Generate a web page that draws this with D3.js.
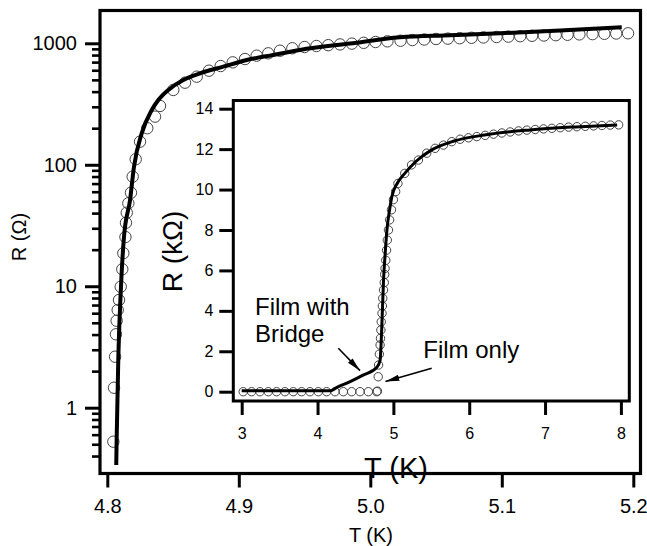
<!DOCTYPE html>
<html>
<head>
  <meta charset="utf-8">
  <title>R vs T</title>
  <script src="https://d3js.org/d3.v7.min.js"></script>
  <style>
    body { margin: 0; background: #fff; }
    text { font-family: "Liberation Sans", Arial, Helvetica, sans-serif; fill: #000; }
  </style>
</head>
<body>
<svg id="chart" width="647" height="546"></svg>
<script>
// main panel: R (Ohm, log) against T (K) near the transition
var mainT = [4.8046, 4.8051, 4.8059, 4.8066, 4.8071, 4.8079, 4.8089, 4.8102, 4.8114, 4.8122,
             4.8138, 4.8142, 4.8148, 4.8160, 4.8180, 4.8193, 4.8216, 4.8249, 4.8304, 4.8363,
             4.8401, 4.8502, 4.8591, 4.8680, 4.8773, 4.8862, 4.8954, 4.9047, 4.9136, 4.9224,
             4.9313, 4.9407, 4.950, 4.959, 4.968, 4.977, 4.986, 4.995, 5.004, 5.013,
             5.023, 5.032, 5.041, 5.050, 5.059, 5.068, 5.077, 5.086, 5.096, 5.105,
             5.114, 5.123, 5.132, 5.141, 5.150, 5.159, 5.169, 5.178, 5.187, 5.196];
var mainR = [0.525, 1.46, 2.63, 4.02, 5.2, 6.37, 7.7, 9.9, 13.8, 18.7,
             25.4, 33.3, 40.3, 48.2, 58.9, 79.8, 111, 155, 200, 249,
             305, 413, 474, 531, 595, 650, 697, 742, 791, 827,
             869, 910, 932, 950, 965, 979, 994, 1009, 1025, 1038,
             1050, 1064, 1074, 1085, 1093, 1101, 1110, 1118, 1127, 1135,
             1144, 1153, 1159, 1166, 1175, 1184, 1190, 1197, 1204, 1209];
var fitT = [4.8068, 4.8071, 4.8084, 4.8104, 4.8127, 4.8173, 4.8203, 4.8262, 4.8338, 4.8388,
            4.8464, 4.8578, 4.8705, 4.8882, 4.9060, 4.9262, 4.9465, 4.9846, 5.0226, 5.0606,
            5.0986, 5.1443, 5.1912];
var fitR = [0.337, 0.542, 2.63, 9.9, 25.6, 51.3, 96.4, 182, 282, 341,
            413, 499, 566, 642, 729, 801, 881, 996, 1120, 1164,
            1209, 1274, 1354];

// inset: R (kOhm) against T (K), 3 to 8 K
var insetT = [3.02, 3.13, 3.24, 3.35, 3.46, 3.57, 3.68, 3.79, 3.90, 4.01, 4.12, 4.23, 4.34, 4.45, 4.56, 4.67, 4.78,
              4.79, 4.80, 4.805, 4.815, 4.825, 4.83, 4.835, 4.84, 4.85, 4.855, 4.86, 4.87, 4.88, 4.885, 4.89,
              4.90, 4.91, 4.92, 4.935, 4.95, 4.975, 5.00, 5.03, 5.06, 5.15, 5.24, 5.33, 5.44, 5.55, 5.66,
              5.77, 5.88, 5.99, 6.10, 6.21, 6.32, 6.43, 6.54, 6.65, 6.76, 6.87, 6.98, 7.09, 7.20, 7.31,
              7.42, 7.53, 7.64, 7.75, 7.86, 7.97];
var insetR = [0, 0, 0, 0, 0, 0, 0, 0, 0, 0, 0, 0, 0, 0, 0, 0, 0,
              0.03, 0.74, 1.32, 1.86, 2.31, 2.64, 3.05, 3.46, 3.88, 4.24, 4.62, 5.03, 5.4, 5.8, 6.1,
              6.5, 7.0, 7.5, 8.0, 8.5, 9.0, 9.5, 9.9, 10.3, 10.8, 11.22, 11.46, 11.8, 12.04, 12.2,
              12.37, 12.49, 12.56, 12.62, 12.68, 12.74, 12.8, 12.85, 12.9, 12.94, 12.97, 13.0, 13.03, 13.06, 13.09,
              13.11, 13.13, 13.15, 13.17, 13.19, 13.2];
var bridgeT = [3.0, 4.17, 4.25, 4.43, 4.6, 4.78, 4.825, 4.845, 4.87, 4.895, 4.915, 4.95, 4.98,
               5.05, 5.15, 5.3, 5.5, 5.8, 6.2, 6.8, 7.4, 7.95];
var bridgeR = [0.05, 0.05, 0.2, 0.5, 0.82, 1.2, 1.55, 3.0, 5.5, 7.0, 8.0, 9.0, 9.65,
               10.3, 10.8, 11.4, 11.95, 12.4, 12.7, 12.95, 13.1, 13.2];

var mainXTicks = [4.8, 4.9, 5.0, 5.1, 5.2];
var mainYTicks = [1, 10, 100, 1000];
var insetXTicks = [3, 4, 5, 6, 7, 8];
var insetYTicks = [0, 2, 4, 6, 8, 10, 12, 14];

var svg = d3.select('#chart');

// main panel geometry
var box = { left: 100, right: 640.5, top: 10.5, bottom: 473.5 };
var x = d3.scaleLinear().domain([4.8, 5.2]).range([107.3, 633.3]);
var y = d3.scaleLog().domain([1, 1000]).range([407.7, 43.3]);

// minor log ticks between labelled decades
var minorTicks = [];
[0.1, 1, 10, 100].forEach(function(d) {
  for (var k = 2; k <= 9; k++) {
    var v = d * k;
    if (v >= 0.4 && v < 1000) minorTicks.push(v);
  }
});

svg.append('rect')
  .attr('x', box.left).attr('y', box.top)
  .attr('width', box.right - box.left).attr('height', box.bottom - box.top)
  .attr('fill', 'none').attr('stroke', '#000').attr('stroke-width', 3.2);

var xAxis = svg.append('g')
  .attr('transform', 'translate(0,' + box.bottom + ')')
  .call(d3.axisBottom(x).tickValues(mainXTicks).tickSize(14).tickPadding(11)
        .tickFormat(d3.format('.1f')));

var yMinor = svg.append('g')
  .attr('transform', 'translate(' + box.left + ',0)')
  .call(d3.axisLeft(y).tickValues(minorTicks).tickSize(8).tickFormat(''));

var yAxis = svg.append('g')
  .attr('transform', 'translate(' + box.left + ',0)')
  .call(d3.axisLeft(y).tickValues(mainYTicks).tickSize(15).tickPadding(8)
        .tickFormat(d3.format('d')));

[xAxis, yMinor, yAxis].forEach(function(g) {
  g.select('.domain').remove();
  g.selectAll('line').attr('stroke', '#000').attr('stroke-width', 3);
  g.selectAll('text').attr('font-size', 20).attr('font-family', null);
});
yMinor.selectAll('line').attr('stroke-width', 2.6);

svg.append('text')
  .attr('x', 371).attr('y', 542)
  .attr('text-anchor', 'middle').attr('font-size', 20)
  .text('T (K)');
svg.append('text')
  .attr('transform', 'translate(25.5,237) rotate(-90)')
  .attr('text-anchor', 'middle').attr('font-size', 20)
  .text('R (Ω)');

var mainPts = mainT.map(function(t, i) { return { t: t, r: mainR[i] }; });
var fitPts = fitT.map(function(t, i) { return { t: t, r: fitR[i] }; });

svg.append('g').selectAll('circle')
  .data(mainPts).enter().append('circle')
  .attr('cx', function(d) { return x(d.t); })
  .attr('cy', function(d) { return y(d.r); })
  .attr('r', 5.7)
  .attr('fill', 'none').attr('stroke', '#444').attr('stroke-width', 1);

svg.append('path')
  .datum(fitPts)
  .attr('fill', 'none').attr('stroke', '#000').attr('stroke-width', 4)
  .attr('d', d3.line()
    .x(function(d) { return x(d.t); })
    .y(function(d) { return y(d.r); })
    .curve(d3.curveMonotoneX));

// inset panel
var ibox = { left: 233.3, right: 629.3, top: 100.5, bottom: 401 };
var xi = d3.scaleLinear().domain([3, 8]).range([241.7, 620.9]);
var yi = d3.scaleLinear().domain([0, 14]).range([391.7, 108.7]);

svg.append('rect')
  .attr('x', ibox.left).attr('y', ibox.top)
  .attr('width', ibox.right - ibox.left).attr('height', ibox.bottom - ibox.top)
  .attr('fill', '#fff').attr('stroke', '#000').attr('stroke-width', 3);

var xiAxis = svg.append('g')
  .attr('transform', 'translate(0,' + ibox.bottom + ')')
  .call(d3.axisBottom(xi).tickValues(insetXTicks).tickSize(14).tickPadding(13)
        .tickFormat(d3.format('d')));
var yiAxis = svg.append('g')
  .attr('transform', 'translate(' + ibox.left + ',0)')
  .call(d3.axisLeft(yi).tickValues(insetYTicks).tickSize(14).tickPadding(6)
        .tickFormat(d3.format('d')));

[xiAxis, yiAxis].forEach(function(g) {
  g.select('.domain').remove();
  g.selectAll('line').attr('stroke', '#000').attr('stroke-width', 3);
  g.selectAll('text').attr('font-size', 16).attr('font-family', null);
});

svg.append('text')
  .attr('transform', 'translate(182,251.5) rotate(-90)')
  .attr('text-anchor', 'middle').attr('font-size', 28)
  .text('R (kΩ)');
svg.append('text')
  .attr('x', 396).attr('y', 478)
  .attr('text-anchor', 'middle').attr('font-size', 29)
  .text('T (K)');

var insetPts = insetT.map(function(t, i) { return { t: t, r: insetR[i] }; });
var bridgePts = bridgeT.map(function(t, i) { return { t: t, r: bridgeR[i] }; });

svg.append('g').selectAll('circle')
  .data(insetPts).enter().append('circle')
  .attr('cx', function(d) { return xi(d.t); })
  .attr('cy', function(d) { return yi(d.r); })
  .attr('r', 4.2)
  .attr('fill', 'none').attr('stroke', '#444').attr('stroke-width', 1);

svg.append('path')
  .datum(bridgePts)
  .attr('fill', 'none').attr('stroke', '#000').attr('stroke-width', 3)
  .attr('d', d3.line()
    .x(function(d) { return xi(d.t); })
    .y(function(d) { return yi(d.r); })
    .curve(d3.curveMonotoneX));

// annotations
svg.append('defs').append('marker')
  .attr('id', 'head')
  .attr('viewBox', '0 -4 14 8')
  .attr('refX', 14).attr('refY', 0)
  .attr('markerUnits', 'userSpaceOnUse')
  .attr('markerWidth', 14).attr('markerHeight', 8)
  .attr('orient', 'auto')
  .append('path').attr('d', 'M0,-3.2L14,0L0,3.2Z').attr('fill', '#000');

var arrows = [
  { t0: 4.274, r0: 2.15, t1: 4.56, r1: 1.04 },
  { t0: 5.505, r0: 1.16, t1: 4.896, r1: 0.5 }
];
svg.append('g').selectAll('line')
  .data(arrows).enter().append('line')
  .attr('x1', function(d) { return xi(d.t0); })
  .attr('y1', function(d) { return yi(d.r0); })
  .attr('x2', function(d) { return xi(d.t1); })
  .attr('y2', function(d) { return yi(d.r1); })
  .attr('stroke', '#000').attr('stroke-width', 1.6)
  .attr('marker-end', 'url(#head)');

svg.append('text').attr('x', xi(3.176)).attr('y', yi(3.80))
  .attr('font-size', 24).text('Film with');
svg.append('text').attr('x', xi(3.176)).attr('y', yi(2.47))
  .attr('font-size', 24).text('Bridge');
svg.append('text').attr('x', xi(5.394)).attr('y', yi(1.65))
  .attr('font-size', 24).text('Film only');
</script>
</body>
</html>
